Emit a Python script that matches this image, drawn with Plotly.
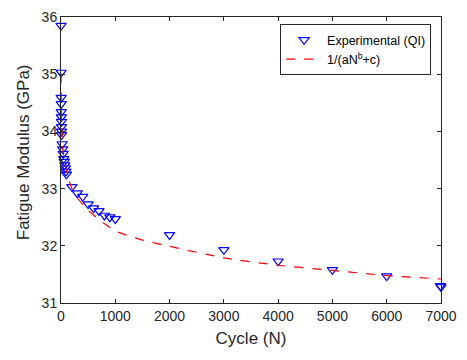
import plotly.graph_objects as go

# Experimental data (QI)
cycles_exp = [1, 2, 3, 4, 5, 6, 7, 8, 9, 10,
              20, 30, 40, 50, 60, 70, 80, 90, 100,
              200, 300, 400, 500, 600, 700, 800, 900, 1000,
              2000, 3000, 4000, 5000, 6000, 6990, 7000]
modulus_exp = [35.85, 35.03, 34.59, 34.48, 34.34, 34.25, 34.17, 34.08, 34.0, 33.94,
               33.78, 33.69, 33.61, 33.52, 33.47, 33.41, 33.36, 33.30, 33.25,
               33.03, 32.92, 32.86, 32.73, 32.66, 32.61, 32.53, 32.50, 32.47,
               32.19, 31.93, 31.73, 31.58, 31.47, 31.30, 31.28]

# Fitted curve 1/(aN^b+c)
cycles_fit = [1, 2, 5, 10, 20, 50, 100, 200, 300, 500, 700, 1000,
              1500, 2000, 3000, 4000, 5000, 6000, 7000]
modulus_fit = [35.0, 34.76, 34.44, 34.19, 33.93, 33.57, 33.30, 33.0, 32.84, 32.62,
               32.46, 32.26, 32.1, 31.99, 31.79, 31.66, 31.57, 31.48, 31.42]

x_ticks = [0, 1000, 2000, 3000, 4000, 5000, 6000, 7000]
y_ticks = [31, 32, 33, 34, 35, 36]

FONT = "Liberation Sans, Arial"
INK = "#262626"

fig = go.Figure()
fig.add_trace(go.Scatter(
    x=cycles_exp, y=modulus_exp, mode="markers", name="Experimental (QI)",
    marker=dict(symbol="triangle-down-open", size=9, color="#0000ff",
                line=dict(width=1.2, color="#0000ff")),
    cliponaxis=False,
))
fig.add_trace(go.Scatter(
    x=cycles_fit, y=modulus_fit, mode="lines", name="1/(aN<sup>b</sup>+c)",
    line=dict(color="#ff0000", dash="dash", width=1.2, shape="spline", smoothing=0.6),
))

axis_common = dict(
    showgrid=False, zeroline=False, showline=True, linecolor=INK,
    linewidth=1, mirror="ticks", ticks="inside", ticklen=4, tickcolor=INK,
    tickfont=dict(family=FONT, size=14, color=INK),
)
fig.update_xaxes(range=[0, 7000], tickvals=x_ticks,
                 title=dict(text="Cycle (N)", font=dict(family=FONT, size=17, color=INK),
                            standoff=9),
                 **axis_common)
fig.update_yaxes(range=[31, 36], tickvals=y_ticks, **axis_common)

# y-axis title placed as annotation for exact position
fig.add_annotation(
    text="Fatigue Modulus (GPa)", textangle=-90, showarrow=False,
    xref="paper", yref="paper", x=(23 - 61) / 380, y=(303 - 148) / 294,
    xanchor="center", yanchor="middle",
    font=dict(family=FONT, size=17, color=INK),
)

fig.update_layout(
    width=467, height=360,
    margin=dict(l=61, r=26, t=9, b=57),
    paper_bgcolor="white", plot_bgcolor="white",
    showlegend=True,
    legend=dict(x=0.974, y=0.975, xanchor="right", yanchor="top",
                bgcolor="white", bordercolor=INK, borderwidth=1,
                font=dict(family=FONT, size=12.5, color="#000000"),
                tracegroupgap=0, itemwidth=36),
)

fig.write_html("out.html")
